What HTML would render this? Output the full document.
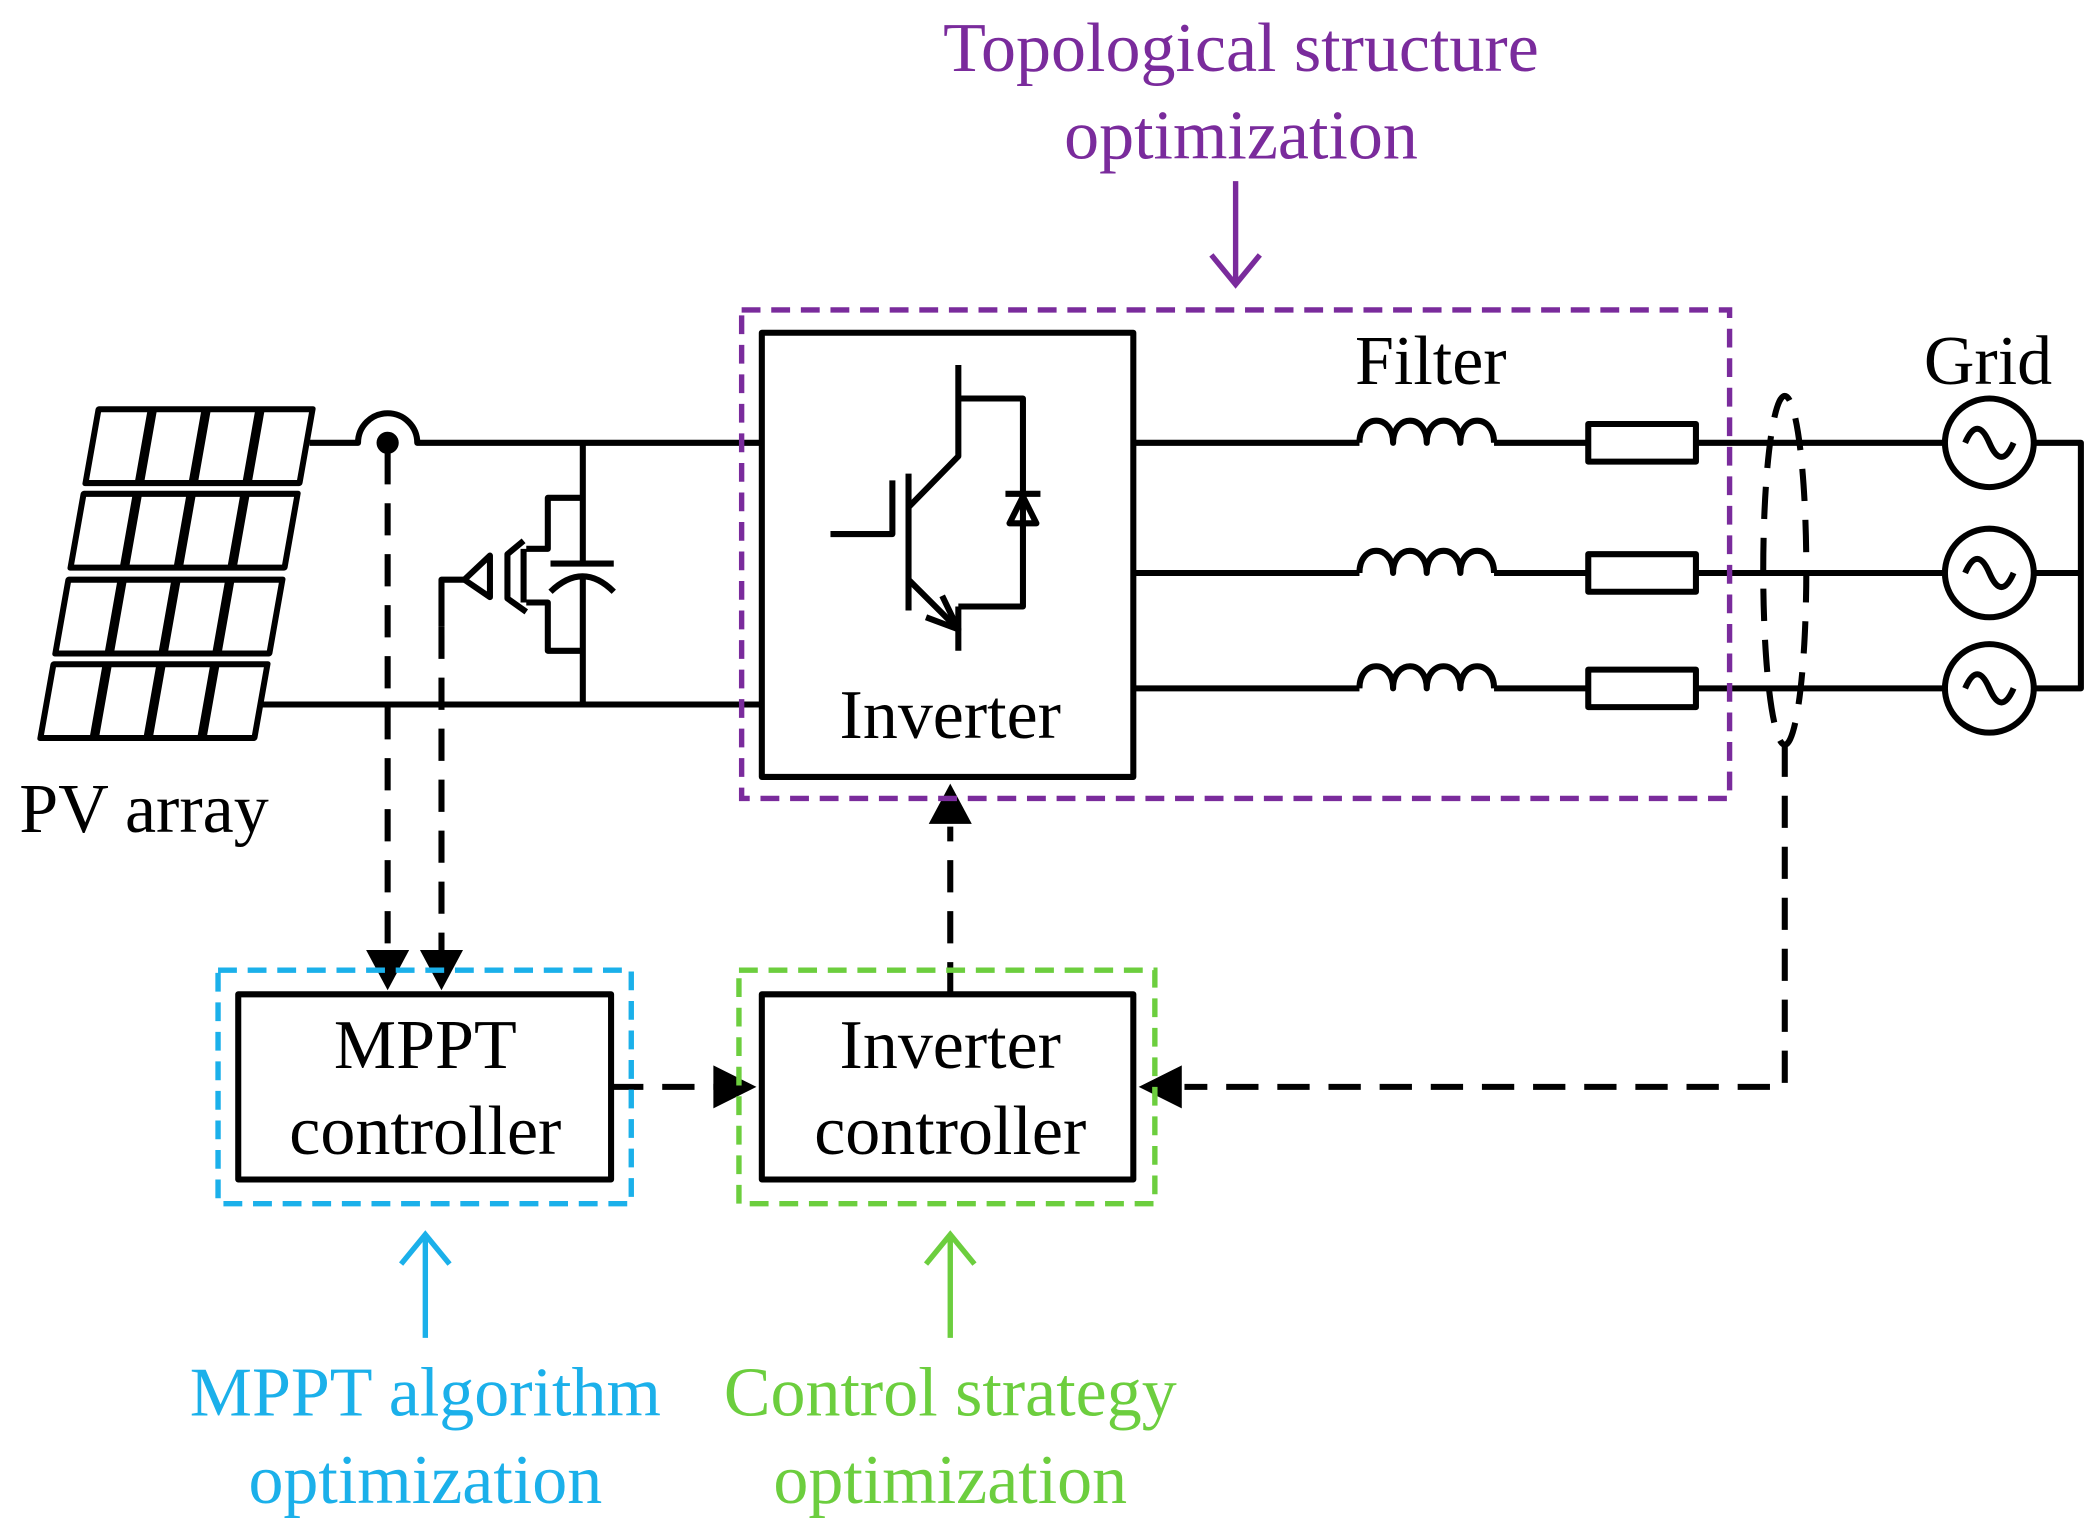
<!DOCTYPE html>
<html><head><meta charset="utf-8"><style>
html,body{margin:0;padding:0;background:#fff;}
svg{display:block;}
text{font-family:"Liberation Serif",serif;}
</style></head><body>
<svg width="2093" height="1523" viewBox="0 0 1555 1135" preserveAspectRatio="none" xmlns="http://www.w3.org/2000/svg">
<g fill="none" stroke="#000" stroke-width="4.5" stroke-linejoin="round">
<g transform="skewX(-10)">
 <rect x="127" y="305" width="159" height="55"/>
 <rect x="127" y="368" width="159" height="55"/>
 <rect x="127" y="432" width="159" height="55"/>
 <rect x="127" y="495" width="159" height="55"/>
 <g stroke-width="7">
 <path d="M167,305V360M207,305V360M247,305V360"/>
 <path d="M167,368V423M207,368V423M247,368V423"/>
 <path d="M167,432V487M207,432V487M247,432V487"/>
 <path d="M167,495V550M207,495V550M247,495V550"/>
 </g>
</g>
<path d="M230,330H266A22,22 0 0 1 310,330H566"/>
<path d="M193,525H566"/>
<circle cx="288" cy="330" r="6" fill="#000"/>
<path d="M433,330V420M409,420H456M409,441Q433,418 456,441M433,430V525"/>
<path d="M433,371H407V409H391M391,449H407V485H433"/>
<path d="M389,403L377,413V446L391,456M389,409V449"/>
<path d="M345,432L364,414V445Z"/>
<path d="M345,432H328V467"/>
<rect x="566" y="248" width="276" height="331"/>
<path d="M617,398H663V358M675,353V455M675,378L712,340V272M712,297H760V452H712M675,432L712,469M712,452V485"/>
<path d="M700,444L712,469L688,460"/>
<path d="M747,368H773M750,390H770L760,370Z"/>
<path d="M842,330H1010M1110,330H1180M1260,330H1445"/>
<path d="M842,427H1010M1110,427H1180M1260,427H1445"/>
<path d="M842,513H1010M1110,513H1180M1260,513H1445"/>
<path d="M1010,330c0,-22 25,-22 25,0c0,-22 25,-22 25,0c0,-22 25,-22 25,0c0,-22 25,-22 25,0"/>
<path d="M1010,427c0,-22 25,-22 25,0c0,-22 25,-22 25,0c0,-22 25,-22 25,0c0,-22 25,-22 25,0"/>
<path d="M1010,513c0,-22 25,-22 25,0c0,-22 25,-22 25,0c0,-22 25,-22 25,0c0,-22 25,-22 25,0"/>
<rect x="1180" y="316" width="80" height="28"/>
<rect x="1180" y="413" width="80" height="28"/>
<rect x="1180" y="499" width="80" height="28"/>
<circle cx="1478" cy="330" r="33"/><circle cx="1478" cy="427" r="33"/><circle cx="1478" cy="513" r="33"/>
<path d="M1460,330c6,-14 12,-14 18,0s12,14 18,0M1460,427c6,-14 12,-14 18,0s12,14 18,0M1460,513c6,-14 12,-14 18,0s12,14 18,0"/>
<path d="M1511,330H1546V513H1511M1511,427H1546"/>
<rect x="177" y="741" width="277" height="138"/>
<rect x="566" y="741" width="276" height="138"/>
</g>
<g fill="none" stroke="#000" stroke-width="4.5" stroke-dasharray="24,14">
<path d="M288,337V712"/>
<path d="M328,467V712"/>
<path d="M454,810H536"/>
<path d="M1326,555V810H880"/>
<path d="M706,741V616"/>
<ellipse cx="1326" cy="425" rx="16" ry="130"/>
</g>
<g fill="#000">
<path d="M272,708H304L288,738Z"/>
<path d="M312,708H344L328,738Z"/>
<path d="M530,794V826L562,810Z"/>
<path d="M878,794V826L846,810Z"/>
<path d="M690,614H722L706,584Z"/>
</g>
<g fill="none" stroke-width="4" stroke-dasharray="14,8">
<rect x="551" y="231" width="734" height="364" stroke="#7a2b9c"/>
<rect x="162" y="723" width="307" height="174" stroke="#1bb0ea"/>
<rect x="549" y="723" width="309" height="174" stroke="#6cce3e"/>
</g>
<g fill="none" stroke-width="4">
<path d="M918,135V212M900,190L918,212L936,190" stroke="#7a2b9c"/>
<path d="M316,997V920M298,942L316,920L334,942" stroke="#1bb0ea"/>
<path d="M706,997V920M688,942L706,920L724,942" stroke="#6cce3e"/>
</g>
<g font-size="52" text-anchor="middle">
<text x="922" y="53" fill="#7a2b9c">Topological structure</text>
<text x="922" y="118" fill="#7a2b9c">optimization</text>
<text x="1063" y="286">Filter</text>
<text x="1477" y="286">Grid</text>
<text x="706" y="550">Inverter</text>
<text x="316" y="796">MPPT</text>
<text x="316" y="860">controller</text>
<text x="706" y="796">Inverter</text>
<text x="706" y="860">controller</text>
<text x="316" y="1055" fill="#1bb0ea">MPPT algorithm</text>
<text x="316" y="1120" fill="#1bb0ea">optimization</text>
<text x="706" y="1055" fill="#6cce3e">Control strategy</text>
<text x="706" y="1120" fill="#6cce3e">optimization</text>
<text x="107" y="620">PV array</text>
</g>
</svg>
</body></html>
